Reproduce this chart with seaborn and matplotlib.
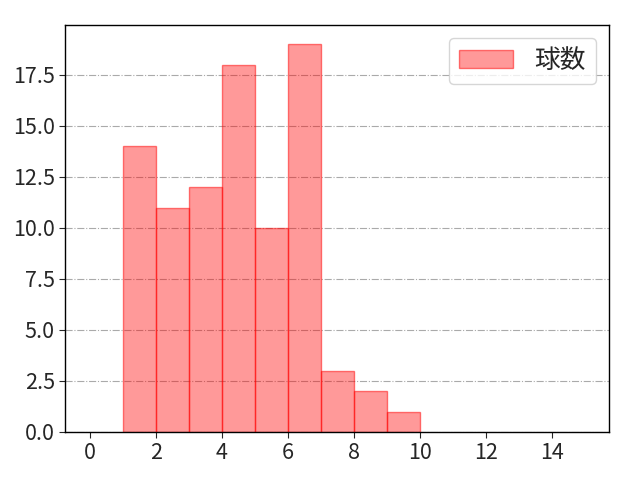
import matplotlib
matplotlib.use("Agg")
import matplotlib.pyplot as plt
import seaborn as sns
import pandas as pd

# === Data: histogram bins (left edge) and counts ===
bin_left = [1, 2, 3, 4, 5, 6, 7, 8, 9]
counts = [14, 11, 12, 18, 10, 19, 3, 2, 1]
label = "球数"

df = pd.DataFrame({"value": [b + 0.5 for b in bin_left], "count": counts})

sns.set_style("white")
plt.rcParams['font.family'] = ['Noto Sans CJK JP', 'DejaVu Sans']

fig, ax = plt.subplots(figsize=(6.4, 4.8), dpi=100)
fig.subplots_adjust(left=0.102, right=0.952, top=0.948, bottom=0.1)
sns.histplot(
    data=df, x="value", weights="count",
    bins=list(range(1, 11)),
    color="red", alpha=0.4, edgecolor=(1, 0, 0, 0.5), linewidth=1,
    label=label, ax=ax,
)
ax.set_axisbelow(True)
ax.grid(True, axis="y", linestyle="-.", color="#aaaaaa", linewidth=0.8)
ax.set_xlim(-0.75, 15.75)
ax.set_ylim(0, 19.95)
ax.set_xticks(range(0, 15, 2))
ax.set_yticks([0, 2.5, 5, 7.5, 10, 12.5, 15, 17.5])
ax.set_xlabel("")
ax.set_ylabel("")
ax.tick_params(labelsize=15.5, left=True, bottom=True, length=4)
for s in ax.spines.values():
    s.set_color("black")
    s.set_linewidth(1)
ax.legend(loc="upper right", fontsize=18.5, handlelength=2.1, handletextpad=0.85)
plt.savefig("out.png")
